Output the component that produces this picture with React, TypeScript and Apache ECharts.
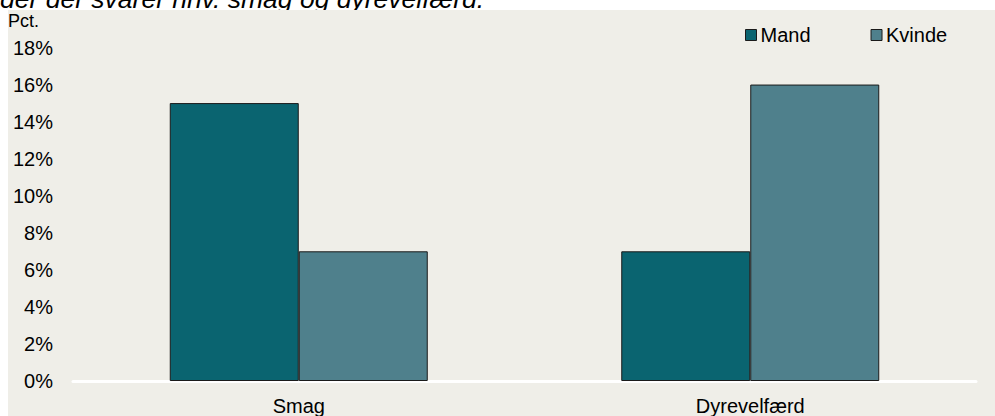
import React, { useEffect, useRef } from "react";
import * as echarts from "echarts";

const titleText = "der der svarer hhv. smag og dyrevelfærd.";
const unitLabel = "Pct.";
const categories = ["Smag", "Dyrevelfærd"];
const seriesNames = ["Mand", "Kvinde"];
const mandValues = [15, 7];
const kvindeValues = [7, 16];
const yMin = 0;
const yMax = 18;
const yStep = 2;

const FONT = "'Liberation Sans', Arial, sans-serif";

export default function App() {
  const ref = useRef<HTMLDivElement>(null);
  useEffect(() => {
    if (!ref.current) return;
    const chart = echarts.init(ref.current, undefined, { renderer: "svg" });
    chart.setOption({
      animation: false,
      backgroundColor: "#ffffff",
      textStyle: { fontFamily: FONT },
      graphic: {
        z: -5,
        elements: [
          {
            type: "text",
            x: 0,
            y: -1.5,
            z2: 0,
            style: {
              text: titleText,
              font: `italic 26.5px ${FONT}`,
              fill: "#000",
              verticalAlign: "middle",
            },
          },
          {
            type: "rect",
            z2: 1,
            shape: { x: 8, y: 10, width: 995, height: 420 },
            style: { fill: "#EFEEE8" },
          },
          {
            type: "text",
            x: 8,
            y: 12,
            z2: 2,
            style: {
              text: unitLabel,
              font: `18px ${FONT}`,
              fill: "#000",
            },
          },
        ],
      },
      legend: {
        data: seriesNames,
        left: 745,
        top: 25,
        padding: 0,
        icon: "rect",
        itemWidth: 11,
        itemHeight: 11,
        itemGap: 60,
        textStyle: { fontSize: 20, color: "#000", padding: [0, 0, 0, -1] },
        itemStyle: { borderColor: "#1a1a1a", borderWidth: 1 },
      },
      grid: {
        left: 73,
        right: 19,
        top: 47.5,
        bottom: 34,
        show: true,
        backgroundColor: "#E0DFD4",
        borderWidth: 0,
      },
      xAxis: {
        type: "category",
        data: categories,
        axisLine: { show: true, lineStyle: { color: "#ffffff", width: 3 } },
        axisTick: { show: false },
        axisLabel: { fontSize: 20, color: "#000", margin: 15 },
      },
      yAxis: {
        type: "value",
        min: yMin,
        max: yMax,
        interval: yStep,
        axisLine: { show: false },
        axisTick: { show: false },
        axisLabel: { fontSize: 20, color: "#000", margin: 20, formatter: "{value}%" },
        splitLine: { show: true, lineStyle: { color: "#ffffff", width: 2 } },
      },
      series: [
        {
          name: seriesNames[0],
          type: "bar",
          data: mandValues,
          barWidth: 129,
          barGap: "0%",
          itemStyle: { color: "#0A6470", borderColor: "#1a1a1a", borderWidth: 1 },
        },
        {
          name: seriesNames[1],
          type: "bar",
          data: kvindeValues,
          barWidth: 129,
          barGap: "0%",
          itemStyle: { color: "#4F808C", borderColor: "#1a1a1a", borderWidth: 1 },
        },
      ],
    });
    return () => chart.dispose();
  }, []);
  return (
    <div
      ref={ref}
      style={{ position: "absolute", left: 0, top: 0, width: 995, height: 416 }}
    />
  );
}
